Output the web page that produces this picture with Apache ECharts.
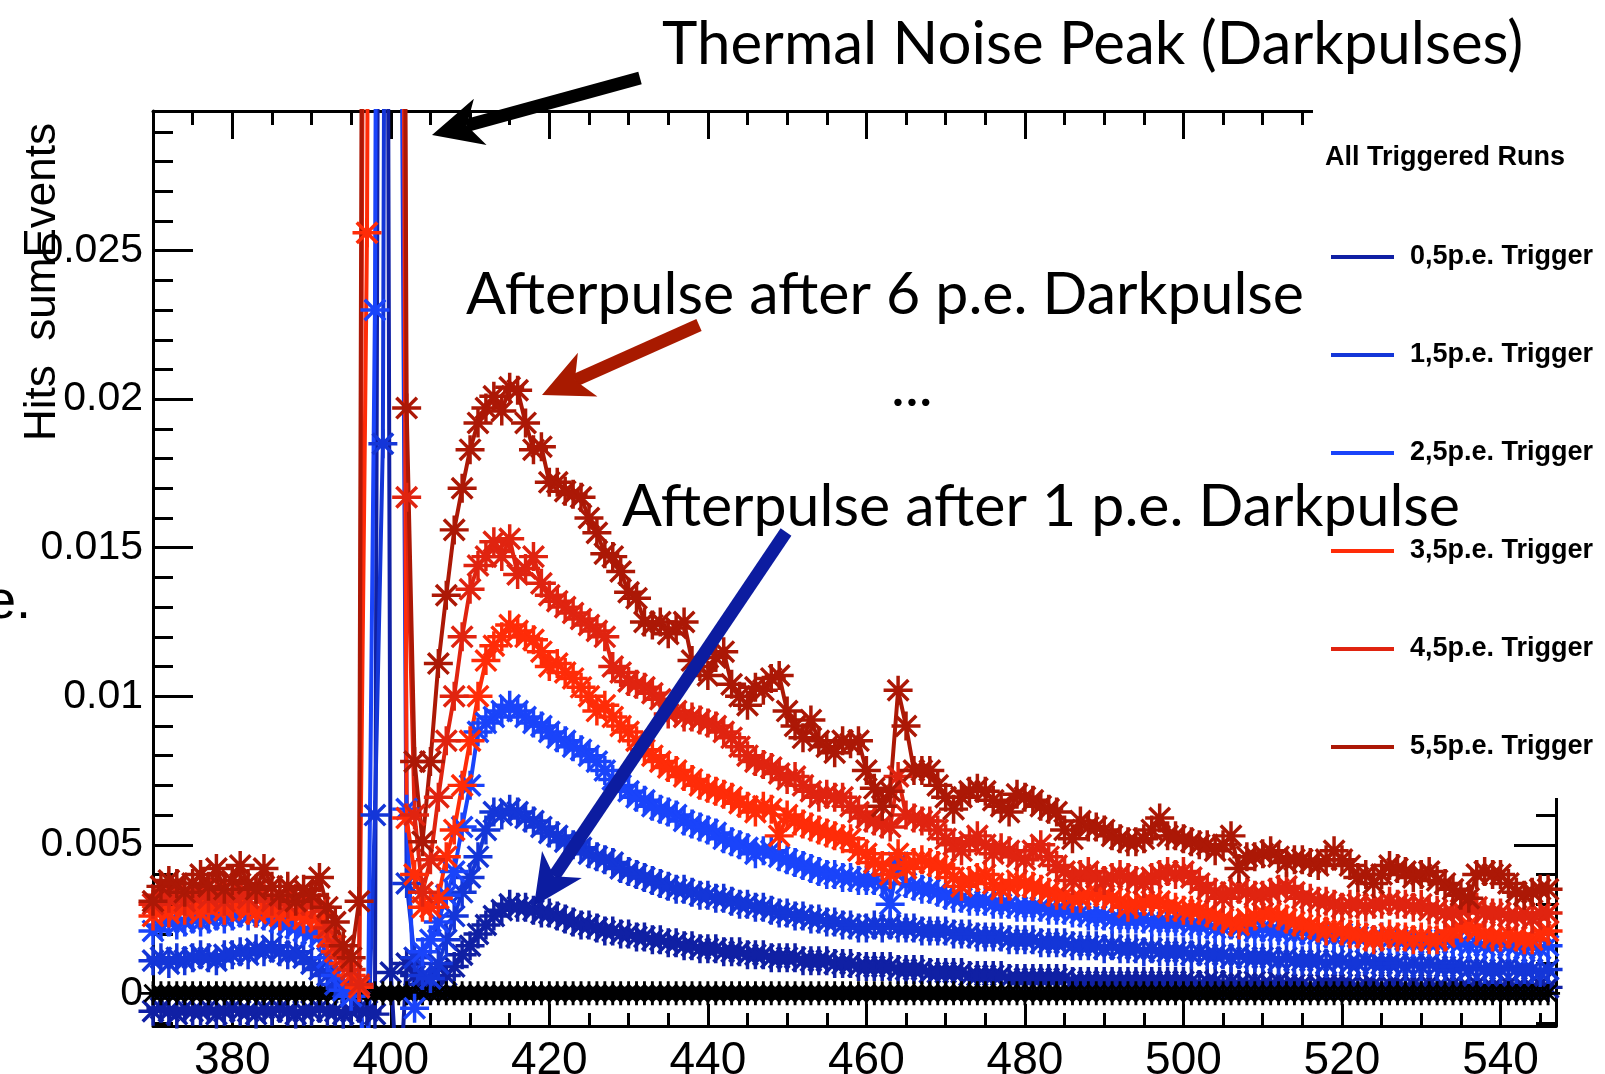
<!DOCTYPE html>
<html>
<head>
<meta charset="utf-8">
<script src="https://cdn.jsdelivr.net/npm/echarts@6/dist/echarts.min.js"></script>
<style>
  html, body { margin: 0; padding: 0; background: #fff; }
  #chart { width: 1605px; height: 1074px; }
</style>
</head>
<body>
<div id="chart"></div>
<script>
// time bins (1 unit wide)
const bins = [
  370,371,372,373,374,375,376,377,378,379,380,381,382,383,384,385,386,387,388,389,
  390,391,392,393,394,395,396,397,398,399,400,401,402,403,404,405,406,407,408,409,
  410,411,412,413,414,415,416,417,418,419,420,421,422,423,424,425,426,427,428,429,
  430,431,432,433,434,435,436,437,438,439,440,441,442,443,444,445,446,447,448,449,
  450,451,452,453,454,455,456,457,458,459,460,461,462,463,464,465,466,467,468,469,
  470,471,472,473,474,475,476,477,478,479,480,481,482,483,484,485,486,487,488,489,
  490,491,492,493,494,495,496,497,498,499,500,501,502,503,504,505,506,507,508,509,
  510,511,512,513,514,515,516,517,518,519,520,521,522,523,524,525,526,527,528,529,
  530,531,532,533,534,535,536,537,538,539,540,541,542,543,544,545,546
];

const trig05 = [
  -0.0006,-0.0005,-0.0006,-0.0007,-0.0005,-0.0006,-0.0006,-0.0005,-0.0007,-0.0006,
  -0.0005,-0.0006,-0.0006,-0.0007,-0.0005,-0.0006,-0.0005,-0.0006,-0.0007,-0.0006,
  -0.0006,-0.0005,-0.0006,-0.0006,-0.0007,-0.0006,-0.0005,-0.0006,-0.0007,0.09,
  0.0007,-0.004,0.0010,0.0006,0.0003,0.0001,0.0002,0.0006,0.0009,0.0013,
  0.0016,0.0020,0.0023,0.0026,0.0028,0.0030,0.0029,0.0029,0.0028,0.0027,
  0.0027,0.0026,0.0025,0.0024,0.0023,0.0023,0.0022,0.0021,0.0021,0.0020,
  0.0020,0.0019,0.0019,0.0018,0.0018,0.0017,0.0017,0.0016,0.0016,0.0015,
  0.0015,0.0015,0.0014,0.0014,0.0014,0.0013,0.0013,0.0013,0.0012,0.0012,
  0.0012,0.0012,0.0011,0.0011,0.0011,0.0011,0.0010,0.0010,0.0010,0.0009,
  0.0009,0.0009,0.0009,0.0009,0.0008,0.0008,0.0008,0.0008,0.0007,0.0007,
  0.0007,0.0007,0.0007,0.0006,0.0006,0.0006,0.0006,0.0006,0.0005,0.0005,
  0.0005,0.0005,0.0005,0.0005,0.0005,0.0005,0.0004,0.0004,0.0004,0.0004,
  0.0004,0.0004,0.0004,0.0004,0.0004,0.0004,0.0004,0.0004,0.0004,0.0004,
  0.0004,0.0004,0.0003,0.0004,0.0004,0.0003,0.0004,0.0003,0.0003,0.0004,
  0.0003,0.0003,0.0004,0.0003,0.0003,0.0003,0.0002,0.0003,0.0003,0.0003,
  0.0003,0.0003,0.0002,0.0003,0.0003,0.0002,0.0003,0.0003,0.0002,0.0003,
  0.0002,0.0003,0.0002,0.0002,0.0003,0.0002,0.0002,0.0003,0.0002,0.0002,
  0.0002,0.0003,0.0002,0.0002,0.0002,0.0003,0.0002
];

const trig15 = [
  0.0011,0.0012,0.0010,0.0012,0.0011,0.0012,0.0013,0.0012,0.0011,0.0013,
  0.0013,0.0014,0.0013,0.0015,0.0014,0.0016,0.0014,0.0013,0.0014,0.0012,
  0.0010,0.0008,0.0006,0.0003,0.0002,0.0001,0.0002,-0.003,0.0060,0.0185,
  0.1,0.05,0.0037,0.0012,0.0006,0.0005,0.0010,0.0018,0.0026,0.0034,
  0.0039,0.0046,0.0055,0.0061,0.0060,0.0062,0.0061,0.0059,0.0058,0.0056,
  0.0054,0.0053,0.0051,0.0050,0.0049,0.0047,0.0046,0.0045,0.0044,0.0042,
  0.0041,0.0040,0.0039,0.0038,0.0037,0.0036,0.0035,0.0035,0.0034,0.0033,
  0.0033,0.0032,0.0032,0.0031,0.0030,0.0030,0.0029,0.0029,0.0028,0.0027,
  0.0027,0.0026,0.0026,0.0025,0.0025,0.0024,0.0024,0.0023,0.0023,0.0022,
  0.0022,0.0023,0.0022,0.0023,0.0022,0.0022,0.0022,0.0021,0.0021,0.0021,
  0.0021,0.0020,0.0020,0.0020,0.0019,0.0019,0.0019,0.0019,0.0018,0.0018,
  0.0018,0.0018,0.0017,0.0017,0.0017,0.0017,0.0016,0.0016,0.0016,0.0016,
  0.0015,0.0016,0.0015,0.0015,0.0015,0.0014,0.0015,0.0014,0.0014,0.0014,
  0.0014,0.0013,0.0014,0.0013,0.0013,0.0013,0.0012,0.0013,0.0012,0.0012,
  0.0012,0.0012,0.0011,0.0012,0.0011,0.0011,0.0011,0.0011,0.0010,0.0011,
  0.0011,0.0010,0.0010,0.0011,0.0010,0.0010,0.0010,0.0010,0.0009,0.0010,
  0.0009,0.0010,0.0009,0.0009,0.0009,0.0009,0.0008,0.0009,0.0008,0.0008,
  0.0008,0.0009,0.0008,0.0008,0.0008,0.0007,0.0008
];

const trig25 = [
  0.0021,0.0023,0.0024,0.0023,0.0024,0.0025,0.0024,0.0025,0.0026,0.0025,
  0.0026,0.0027,0.0026,0.0027,0.0026,0.0025,0.0024,0.0023,0.0022,0.0021,
  0.0020,0.0019,0.0012,0.0006,0.0001,-0.0001,0.0003,-0.004,0.0230,0.1,
  0.1,0.06,0.0062,-0.0005,0.0014,0.0018,0.0024,0.0033,0.0041,0.0056,
  0.0070,0.0088,0.0091,0.0093,0.0095,0.0097,0.0095,0.0093,0.0091,0.0090,
  0.0088,0.0086,0.0085,0.0083,0.0082,0.0080,0.0078,0.0075,0.0072,0.0070,
  0.0068,0.0066,0.0065,0.0063,0.0062,0.0061,0.0060,0.0058,0.0057,0.0056,
  0.0055,0.0054,0.0052,0.0051,0.0050,0.0049,0.0047,0.0048,0.0048,0.0046,
  0.0045,0.0044,0.0043,0.0042,0.0041,0.0040,0.0040,0.0039,0.0039,0.0038,
  0.0038,0.0038,0.0037,0.0030,0.0044,0.0037,0.0036,0.0035,0.0035,0.0034,
  0.0033,0.0032,0.0032,0.0031,0.0031,0.0031,0.0030,0.0030,0.0030,0.0029,
  0.0029,0.0029,0.0029,0.0028,0.0028,0.0028,0.0027,0.0027,0.0026,0.0026,
  0.0026,0.0025,0.0025,0.0025,0.0025,0.0025,0.0024,0.0024,0.0024,0.0024,
  0.0024,0.0023,0.0023,0.0023,0.0022,0.0022,0.0023,0.0022,0.0022,0.0021,
  0.0022,0.0021,0.0021,0.0021,0.0020,0.0021,0.0020,0.0020,0.0020,0.0019,
  0.0020,0.0019,0.0019,0.0019,0.0018,0.0019,0.0018,0.0018,0.0018,0.0017,
  0.0018,0.0017,0.0017,0.0018,0.0017,0.0017,0.0016,0.0017,0.0016,0.0016,
  0.0017,0.0016,0.0016,0.0015,0.0016,0.0015,0.0016
];

const trig35 = [
  0.0026,0.0028,0.0027,0.0029,0.0028,0.0030,0.0027,0.0029,0.0031,0.0028,
  0.0029,0.0030,0.0028,0.0027,0.0029,0.0028,0.0026,0.0028,0.0027,0.0025,
  0.0026,0.0024,0.0019,0.0014,0.0010,0.0006,0.0002,0.0256,0.1,0.1,
  0.1,0.08,0.0059,0.0040,0.0029,0.0029,0.0032,0.0046,0.0055,0.0070,
  0.0085,0.0100,0.0112,0.0117,0.0120,0.0124,0.0122,0.0120,0.0119,0.0115,
  0.0110,0.0111,0.0108,0.0106,0.0103,0.0100,0.0095,0.0097,0.0093,0.0090,
  0.0088,0.0085,0.0082,0.0080,0.0078,0.0076,0.0075,0.0073,0.0072,0.0070,
  0.0069,0.0068,0.0067,0.0066,0.0064,0.0063,0.0061,0.0063,0.0062,0.0053,
  0.0060,0.0058,0.0057,0.0056,0.0055,0.0054,0.0053,0.0052,0.0052,0.0048,
  0.0047,0.0044,0.0043,0.0040,0.0047,0.0042,0.0044,0.0045,0.0044,0.0043,
  0.0042,0.0039,0.0036,0.0038,0.0039,0.0040,0.0037,0.0035,0.0036,0.0038,
  0.0037,0.0036,0.0035,0.0034,0.0033,0.0033,0.0032,0.0032,0.0033,0.0034,
  0.0033,0.0032,0.0031,0.0029,0.0030,0.0031,0.0031,0.0031,0.0029,0.0029,
  0.0028,0.0028,0.0028,0.0027,0.0026,0.0025,0.0024,0.0023,0.0025,0.0026,
  0.0027,0.0027,0.0026,0.0025,0.0024,0.0023,0.0023,0.0022,0.0021,0.0022,
  0.0021,0.0020,0.0020,0.0019,0.0018,0.0019,0.0020,0.0019,0.0019,0.0018,
  0.0019,0.0018,0.0018,0.0019,0.0021,0.0022,0.0023,0.0021,0.0020,0.0019,
  0.0019,0.0020,0.0019,0.0018,0.0018,0.0020,0.0021
];

const trig45 = [
  0.0030,0.0033,0.0032,0.0034,0.0031,0.0033,0.0035,0.0032,0.0034,0.0031,
  0.0033,0.0034,0.0032,0.0035,0.0033,0.0031,0.0033,0.0030,0.0032,0.0031,
  0.0030,0.0029,0.0022,0.0016,0.0012,0.0008,0.0003,0.07,0.1,0.1,
  0.1,0.08,0.0167,0.0060,0.0034,0.0045,0.0066,0.0085,0.0100,0.0120,
  0.0136,0.0144,0.0147,0.0152,0.0147,0.0153,0.0141,0.0143,0.0147,0.0138,
  0.0134,0.0132,0.0130,0.0128,0.0126,0.0124,0.0122,0.0120,0.0110,0.0108,
  0.0105,0.0104,0.0103,0.0101,0.0099,0.0094,0.0095,0.0093,0.0093,0.0092,
  0.0091,0.0090,0.0088,0.0086,0.0083,0.0080,0.0078,0.0077,0.0076,0.0074,
  0.0072,0.0073,0.0070,0.0068,0.0066,0.0067,0.0066,0.0066,0.0063,0.0061,
  0.0059,0.0058,0.0057,0.0056,0.0073,0.0060,0.0059,0.0058,0.0058,0.0055,
  0.0052,0.0050,0.0048,0.0051,0.0053,0.0050,0.0047,0.0049,0.0048,0.0046,
  0.0045,0.0048,0.0050,0.0046,0.0043,0.0041,0.0038,0.0040,0.0041,0.0039,
  0.0038,0.0039,0.0040,0.0039,0.0038,0.0037,0.0039,0.0040,0.0041,0.0040,
  0.0041,0.0039,0.0037,0.0035,0.0034,0.0032,0.0034,0.0035,0.0034,0.0033,
  0.0033,0.0034,0.0035,0.0036,0.0034,0.0032,0.0032,0.0031,0.0031,0.0030,
  0.0029,0.0030,0.0030,0.0029,0.0030,0.0030,0.0031,0.0030,0.0030,0.0029,
  0.0030,0.0028,0.0028,0.0027,0.0027,0.0028,0.0029,0.0029,0.0027,0.0027,
  0.0027,0.0026,0.0026,0.0027,0.0025,0.0027,0.0027
];

const trig55 = [
  0.0031,0.0036,0.0038,0.0037,0.0034,0.0037,0.0040,0.0036,0.0042,0.0035,
  0.0038,0.0043,0.0037,0.0035,0.0042,0.0036,0.0033,0.0036,0.0031,0.0035,
  0.0033,0.0039,0.0029,0.0024,0.0016,0.0012,0.0031,0.09,0.1,0.1,
  0.1,0.09,0.0197,0.0078,0.0051,0.0078,0.0111,0.0134,0.0156,0.0170,
  0.0183,0.0192,0.0197,0.0201,0.0196,0.0204,0.0203,0.0192,0.0183,0.0184,
  0.0172,0.0172,0.0169,0.0168,0.0167,0.0160,0.0155,0.0148,0.0147,0.0142,
  0.0135,0.0133,0.0125,0.0124,0.0125,0.0121,0.0123,0.0125,0.0112,0.0110,
  0.0107,0.0113,0.0115,0.0104,0.0100,0.0097,0.0103,0.0102,0.0106,0.0107,
  0.0095,0.0090,0.0086,0.0092,0.0085,0.0083,0.0081,0.0085,0.0084,0.0085,
  0.0075,0.0069,0.0063,0.0068,0.0102,0.0090,0.0075,0.0075,0.0075,0.0070,
  0.0066,0.0062,0.0066,0.0068,0.0069,0.0068,0.0065,0.0063,0.0061,0.0067,
  0.0066,0.0065,0.0063,0.0062,0.0061,0.0055,0.0052,0.0058,0.0056,0.0056,
  0.0055,0.0053,0.0052,0.0051,0.0051,0.0052,0.0055,0.0059,0.0053,0.0053,
  0.0052,0.0051,0.0050,0.0050,0.0048,0.0050,0.0053,0.0042,0.0046,0.0046,
  0.0047,0.0048,0.0046,0.0044,0.0045,0.0045,0.0044,0.0043,0.0045,0.0048,
  0.0045,0.0043,0.0039,0.0040,0.0037,0.0040,0.0043,0.0042,0.0041,0.0039,
  0.0040,0.0041,0.0038,0.0037,0.0035,0.0033,0.0032,0.0040,0.0041,0.0040,
  0.0040,0.0037,0.0034,0.0033,0.0034,0.0035,0.0035
];

// black reference markers lying on zero
const zeroLine = [
  0,0,0,0,0,0,0,0,0,0,0,0,0,0,0,0,0,0,0,0,0,0,0,0,0,0,0,0,0,0,
  0,0,0,0,0,0,0,0,0,0,0,0,0,0,0,0,0,0,0,0,0,0,0,0,0,0,0,0,0,0,
  0,0,0,0,0,0,0,0,0,0,0,0,0,0,0,0,0,0,0,0,0,0,0,0,0,0,0,0,0,0,
  0,0,0,0,0,0,0,0,0,0,0,0,0,0,0,0,0,0,0,0,0,0,0,0,0,0,0,0,0,0,
  0,0,0,0,0,0,0,0,0,0,0,0,0,0,0,0,0,0,0,0,0,0,0,0,0,0,0,0,0,0,
  0,0,0,0,0,0,0,0,0,0,0,0,0,0,0,0,0,0,0,0,0,0,0,0,0,0,0
];

const seriesNames = ['0,5p.e. Trigger', '1,5p.e. Trigger', '2,5p.e. Trigger',
                     '3,5p.e. Trigger', '4,5p.e. Trigger', '5,5p.e. Trigger'];
const seriesValues = [trig05, trig15, trig25, trig35, trig45, trig55];
const seriesColors = ['#1020a4', '#1436d8', '#1a44fa', '#ff2c08', '#e02410', '#ac1806'];

const xMajor = [380, 400, 420, 440, 460, 480, 500, 520, 540];
const xMinor = [370, 375, 380, 385, 390, 395, 400, 405, 410, 415, 420, 425, 430, 435, 440, 445,
                450, 455, 460, 465, 470, 475, 480, 485, 490, 495, 500, 505, 510, 515, 520, 525,
                530, 535, 540, 545];
const yMajor = [0, 0.005, 0.01, 0.015, 0.02, 0.025];
const yMinor = [-0.001, 0, 0.001, 0.002, 0.003, 0.004, 0.005, 0.006, 0.007, 0.008, 0.009, 0.01,
                0.011, 0.012, 0.013, 0.014, 0.015, 0.016, 0.017, 0.018, 0.019, 0.02, 0.021,
                0.022, 0.023, 0.024, 0.025, 0.026, 0.027, 0.028, 0.029];

const X_MIN = 370, X_MAX = 547, Y_MIN = -0.0011, Y_MAX = 0.0297;

// ROOT style "*" marker
const starSymbol = 'path://M0,8.8L20,8.8L20,11.2L0,11.2ZM8.8,0L11.2,0L11.2,20L8.8,20Z' +
  'M3.75,2.05L17.95,16.25L16.25,17.95L2.05,3.75Z' +
  'M16.25,2.05L17.95,3.75L3.75,17.95L2.05,16.25Z';

const chart = echarts.init(document.getElementById('chart'));

const axisFont = 'Liberation Sans';

function xAxisDef(position, ticks, len, showLine, showLabel) {
  return {
    type: 'value', min: X_MIN, max: X_MAX, position: position,
    axisLine: { show: showLine, onZero: false, lineStyle: { color: '#000', width: 3 } },
    axisTick: { show: true, inside: true, length: len, customValues: ticks,
                lineStyle: { color: '#000', width: 3 } },
    axisLabel: { show: showLabel, customValues: xMajor, color: '#000', fontSize: 46,
                 fontFamily: axisFont, margin: 12, formatter: v => String(v) },
    splitLine: { show: false }
  };
}

function yAxisDef(position, ticks, len, showLine, showLabel) {
  return {
    type: 'value', min: Y_MIN, max: Y_MAX, position: position,
    axisLine: { show: showLine, onZero: false, lineStyle: { color: '#000', width: 3 } },
    axisTick: { show: true, inside: true, length: len, customValues: ticks,
                lineStyle: { color: '#000', width: 3 } },
    axisLabel: { show: showLabel, customValues: yMajor, color: '#000', fontSize: 41,
                 fontFamily: axisFont, margin: 10,
                 formatter: v => String(parseFloat(Number(v).toFixed(4))) },
    splitLine: { show: false }
  };
}

function triggerSeries(k) {
  return {
    type: 'line', name: seriesNames[k],
    data: bins.map((x, i) => [x, seriesValues[k][i]]),
    symbol: starSymbol, symbolSize: 29, showAllSymbol: true,
    itemStyle: { color: seriesColors[k] },
    lineStyle: { color: seriesColors[k], width: 4 },
    clip: true, z: 2, emphasis: { disabled: true }, silent: true
  };
}

// 0.5 p.e. first, then the black zero markers, then the rest
const series = [triggerSeries(0), {
  type: 'line', name: 'zero',
  data: bins.map((x, i) => [x, zeroLine[i]]),
  symbol: starSymbol, symbolSize: 24, showAllSymbol: true,
  itemStyle: { color: '#000' }, lineStyle: { color: '#000', width: 13 },
  clip: true, z: 2, emphasis: { disabled: true }, silent: true
}];
for (let k = 1; k < seriesValues.length; k++) series.push(triggerSeries(k));

// Keynote style arrow: shaft + notched head
function arrow(tail, tip, color) {
  const dx = tail[0] - tip[0], dy = tail[1] - tip[1];
  const len = Math.hypot(dx, dy), ux = dx / len, uy = dy / len;
  const headLen = 50, half = 24, notch = 36;
  const bx = tip[0] + ux * headLen, by = tip[1] + uy * headLen;
  const nx = tip[0] + ux * notch, ny = tip[1] + uy * notch;
  return [
    { type: 'line', z: 20, shape: { x1: tail[0], y1: tail[1], x2: nx, y2: ny },
      style: { stroke: color, lineWidth: 13 } },
    { type: 'polygon', z: 20,
      shape: { points: [tip, [bx - uy * half, by + ux * half], [nx, ny], [bx + uy * half, by - ux * half]] },
      style: { fill: color } }
  ];
}

const noteFont = 'Lato';
const graphics = [
  // legend box hides the top-right part of the frame
  { type: 'rect', z: 3, shape: { x: 1313, y: 0, width: 292, height: 798 }, style: { fill: '#fff' } },
  { type: 'text', z: 5, x: 1325, y: 158,
    style: { text: 'All Triggered Runs', fontSize: 27, fontWeight: 'bold', fontFamily: axisFont,
             fill: '#000', verticalAlign: 'middle' } },
  { type: 'text', z: 5, x: 43, y: 282, rotation: Math.PI / 2,
    style: { text: 'Hits  sumEvents', fontSize: 44, fontFamily: axisFont, fill: '#000',
             align: 'center', verticalAlign: 'middle' } },
  { type: 'text', z: 5, x: 31, y: 603,
    style: { text: 'e.', fontSize: 54, fontFamily: axisFont, fill: '#000',
             align: 'right', verticalAlign: 'middle' } },
  { type: 'text', z: 20, x: 662, y: 45,
    style: { text: 'Thermal Noise Peak (Darkpulses)', fontSize: 60, fontFamily: noteFont,
             fill: '#000', verticalAlign: 'middle' } },
  { type: 'text', z: 20, x: 466, y: 295,
    style: { text: 'Afterpulse after 6 p.e. Darkpulse', fontSize: 59, fontFamily: noteFont,
             fill: '#000', verticalAlign: 'middle' } },
  { type: 'text', z: 20, x: 891, y: 387,
    style: { text: '...', fontSize: 59, fontFamily: noteFont,
             fill: '#000', verticalAlign: 'middle' } },
  { type: 'text', z: 20, x: 622, y: 507,
    style: { text: 'Afterpulse after 1 p.e. Darkpulse', fontSize: 59, fontFamily: noteFont,
             fill: '#000', verticalAlign: 'middle' } }
].concat(
  arrow([640, 78], [432, 135], '#000'),
  arrow([699, 325], [542, 395], '#a81a00'),
  arrow([786, 532], [534, 906], '#0c1ca0')
);

const option = {
  animation: false,
  backgroundColor: '#fff',
  grid: { left: 153, top: 111, width: 1403, height: 915, containLabel: false,
          outerBoundsMode: 'none' },
  xAxis: [
    xAxisDef('bottom', xMajor, 22, true, true),
    xAxisDef('bottom', xMinor, 13, false, false),
    xAxisDef('top', xMajor, 28, true, false),
    xAxisDef('top', xMinor, 14, false, false)
  ],
  yAxis: [
    yAxisDef('left', yMajor, 40, true, true),
    yAxisDef('left', yMinor, 20, false, false),
    yAxisDef('right', yMajor, 42, true, false),
    yAxisDef('right', yMinor, 20, false, false)
  ],
  legend: {
    data: seriesNames,
    orient: 'vertical', left: 1331, top: 242, itemGap: 68,
    icon: 'rect', itemWidth: 63, itemHeight: 4, selectedMode: false,
    padding: 0, z: 5,
    textStyle: { color: '#000', fontSize: 27, fontWeight: 'bold', fontFamily: axisFont,
                 lineHeight: 30, padding: [0, 0, 0, 11] }
  },
  graphic: graphics,
  series: series
};
chart.setOption(option);
</script>
</body>
</html>
